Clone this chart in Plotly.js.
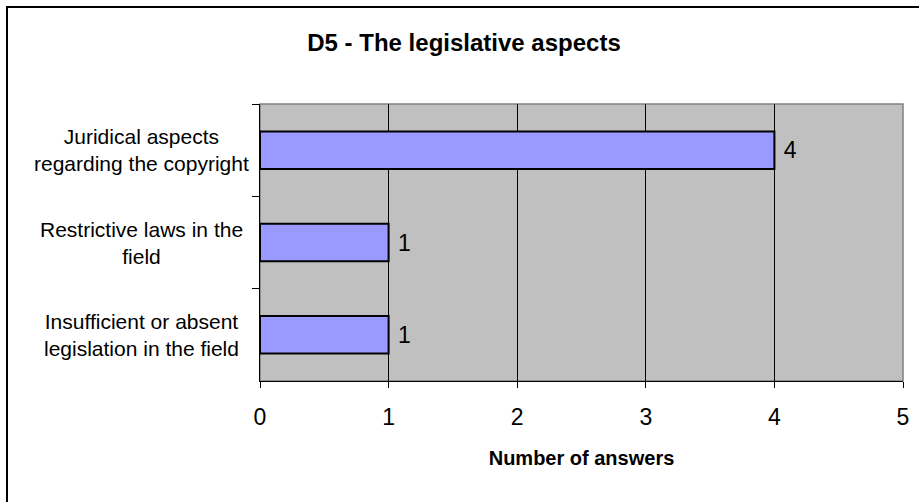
<!DOCTYPE html>
<html>
<head>
<meta charset="utf-8">
<script src="https://cdn.plot.ly/plotly-3.0.1.min.js"></script>
<style>
  html, body { margin: 0; padding: 0; background: #fff; }
  #chart { width: 919px; height: 502px; }
</style>
</head>
<body>
<div id="chart"></div>
<script>
// Data (top-to-bottom order as shown)
const categories = [
  "Juridical aspects<br>regarding the copyright",
  "Restrictive laws in the<br>field",
  "Insufficient or absent<br>legislation in the field"
];
const answers = [4, 1, 1];
const xTicks = [0, 1, 2, 3, 4, 5];
const chartTitle = "D5 - The legislative aspects";
const xTitle = "Number of answers";

const W = 919, H = 502;
const M = { l: 260, r: 16, t: 104, b: 121 };
const PW = W - M.l - M.r, PH = H - M.t - M.b;
const px2x = px => (px - M.l) / PW;
const py2y = py => (H - M.b - py) / PH;

const font = "Arial, 'Liberation Sans', sans-serif";

const trace = {
  type: "bar",
  orientation: "h",
  y: categories,
  x: answers,
  marker: { color: "#9999FF", line: { color: "#000000", width: 2 } },
  texttemplate: " %{x}",
  textposition: "outside",
  cliponaxis: false,
  textfont: { family: font, size: 23, color: "#000" },
  hoverinfo: "none"
};

const annotations = categories.map(c => ({
  xref: "paper", yref: "y",
  x: px2x(141), y: c,
  text: c, showarrow: false,
  xanchor: "center", yanchor: "middle", align: "center",
  font: { family: font, size: 21, color: "#000" }
}));

const layout = {
  width: W, height: H,
  margin: M,
  paper_bgcolor: "#ffffff",
  plot_bgcolor: "#C0C0C0",
  showlegend: false,
  bargap: 0.594,
  title: {
    text: "<b>" + chartTitle + "</b>",
    x: 464 / W, xref: "container", xanchor: "center",
    y: 1 - 43 / H, yref: "container", yanchor: "middle",
    font: { family: font, size: 24, color: "#000" }
  },
  xaxis: {
    range: [0, 5],
    tickvals: xTicks,
    ticktext: xTicks.map(String),
    ticks: "outside", ticklen: 6, tickcolor: "#000", tickwidth: 1,
    showgrid: true, gridcolor: "#000", gridwidth: 1,
    showline: true, linecolor: "#000", linewidth: 1,
    zeroline: false,
    tickfont: { family: font, size: 23, color: "#000" },
    ticklabelstandoff: 9,
    title: {
      text: "<b>" + xTitle + "</b>",
      font: { family: font, size: 20, color: "#000" },
      standoff: 22
    },
    fixedrange: true
  },
  yaxis: {
    type: "category",
    autorange: "reversed",
    showticklabels: false,
    ticks: "outside", ticklen: 7, tickcolor: "#000", tickwidth: 1,
    tickson: "boundaries",
    showgrid: false,
    showline: true, linecolor: "#000", linewidth: 1,
    zeroline: false,
    fixedrange: true
  },
  annotations: annotations,
  shapes: [
    { type: "rect", xref: "paper", yref: "paper",
      x0: 0, x1: 1, y0: 0, y1: 1,
      line: { color: "#808080", width: 1.5 }, layer: "below" },
    { type: "rect", xref: "paper", yref: "paper",
      x0: px2x(7), x1: px2x(940), y0: py2y(7), y1: py2y(520),
      line: { color: "#000", width: 2 }, fillcolor: "rgba(0,0,0,0)" }
  ]
};

Plotly.newPlot("chart", [trace], layout, { staticPlot: true, displayModeBar: false });
</script>
</body>
</html>
